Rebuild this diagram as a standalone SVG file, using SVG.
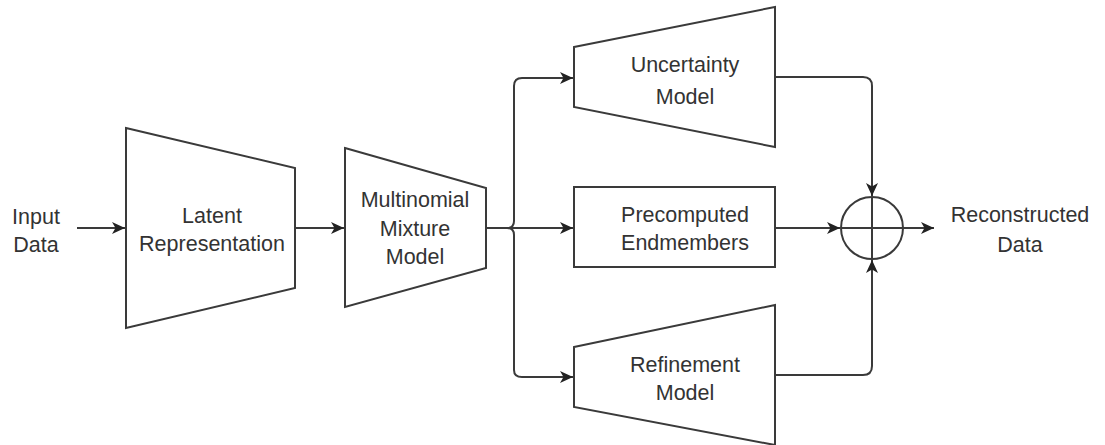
<svg xmlns="http://www.w3.org/2000/svg" width="1105" height="445" viewBox="0 0 1105 445">
<style>
.shape{fill:#fff;stroke:#3a3a3a;stroke-width:2}
.conn{fill:none;stroke:#3a3a3a;stroke-width:2}
text{font-family:"Liberation Sans",Arial,sans-serif;font-size:21.5px;fill:#333;text-anchor:middle}
</style>
<defs>
<marker id="arr" markerUnits="userSpaceOnUse" markerWidth="14" markerHeight="12" refX="13" refY="6" orient="auto" viewBox="0 0 14 12">
<path d="M0,0 L13,6 L0,12 L3.5,6 z" fill="#222"/>
</marker>
</defs>
<rect width="1105" height="445" fill="#fff"/>
<g id="input">
<text x="36" y="224">Input</text>
<text x="36" y="252">Data</text>
</g>
<g id="latent">
<polygon class="shape" points="126,128 295,168 295,288 126,328"/>
<text x="212" y="223">Latent</text>
<text x="212" y="251">Representation</text>
</g>
<g id="mmm">
<polygon class="shape" points="345,148 486,188 486,268 345,307"/>
<text x="415" y="207">Multinomial</text>
<text x="415" y="236">Mixture</text>
<text x="415" y="264">Model</text>
</g>
<g id="uncertainty">
<polygon class="shape" points="574,47 775,7 775,147 574,107"/>
<text x="685" y="72">Uncertainty</text>
<text x="685" y="104">Model</text>
</g>
<g id="precomputed">
<rect class="shape" x="574" y="187" width="201" height="80"/>
<text x="685" y="222">Precomputed</text>
<text x="685" y="250">Endmembers</text>
</g>
<g id="refinement">
<polygon class="shape" points="574,347 775,305 775,445 574,407"/>
<text x="685" y="372">Refinement</text>
<text x="685" y="400">Model</text>
</g>
<g id="sum">
<circle class="shape" cx="872" cy="228" r="31"/>
<line class="conn" x1="841" y1="228" x2="903" y2="228"/>
<line class="conn" x1="872" y1="197" x2="872" y2="259"/>
</g>
<g id="output">
<text x="1020" y="222">Reconstructed</text>
<text x="1020" y="252">Data</text>
</g>
<g id="connectors">
<path class="conn" d="M77,228 L125,228" marker-end="url(#arr)"/>
<path class="conn" d="M295,228 L344,228" marker-end="url(#arr)"/>
<path class="conn" d="M486,228 L573,228" marker-end="url(#arr)"/>
<path class="conn" d="M486,228 L507,228 Q514,228 514,221 L514,86 Q514,78 522,78 L573,78" marker-end="url(#arr)"/>
<path class="conn" d="M486,228 L507,228 Q514,228 514,235 L514,370 Q514,377 522,377 L573,377" marker-end="url(#arr)"/>
<path class="conn" d="M775,77 L863,77 Q872,77 872,86 L872,196" marker-end="url(#arr)"/>
<path class="conn" d="M775,228 L840,228" marker-end="url(#arr)"/>
<path class="conn" d="M775,375 L863,375 Q872,375 872,366 L872,260" marker-end="url(#arr)"/>
<path class="conn" d="M903,228 L934,228" marker-end="url(#arr)"/>
</g>
</svg>
